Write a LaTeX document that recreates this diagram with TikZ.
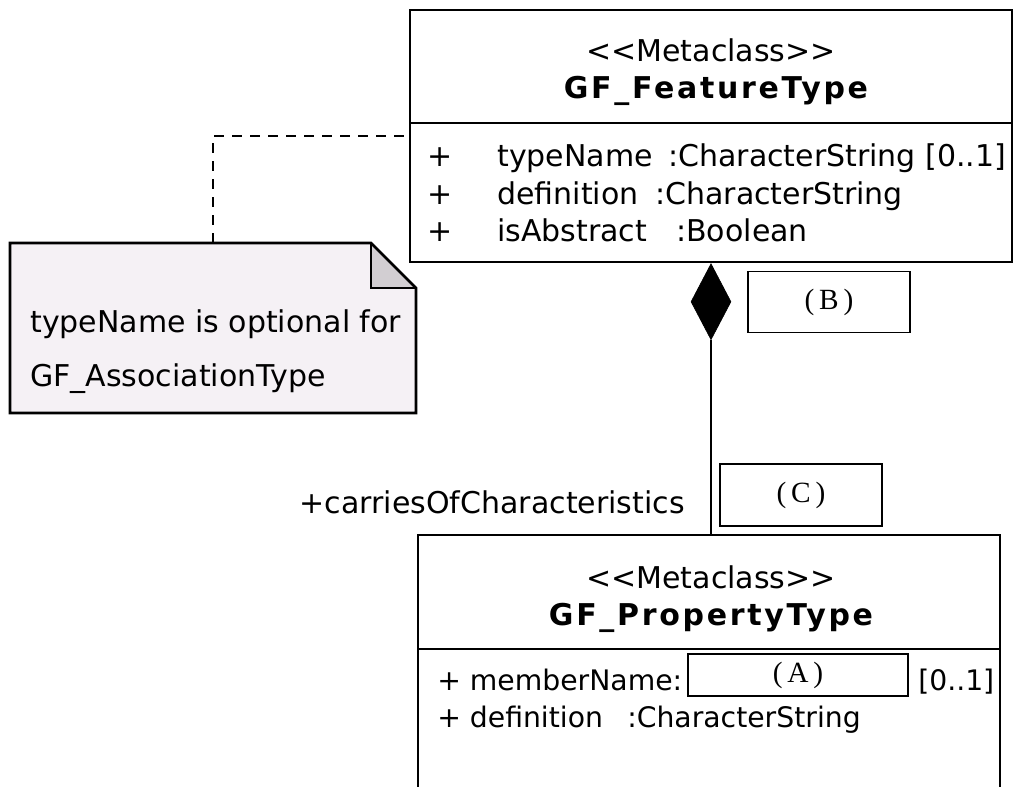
\documentclass[tikz,border=0pt]{standalone}
\usepackage{fontspec}
\setmainfont{DejaVu Sans}[Ligatures=TeXOff]
\newfontfamily\titlefont{DejaVu Sans}[Ligatures=TeXOff, LetterSpace=9]
\newfontfamily\tagfont{Liberation Serif}
\usetikzlibrary{shapes.geometric}
\definecolor{notefill}{HTML}{F5F1F5}
\definecolor{foldfill}{HTML}{D2CED2}
\begin{document}
\begin{tikzpicture}[x=0.75pt,y=-0.75pt,
  umlbox/.style={draw, line width=2.1pt, inner sep=0pt, fill=white},
  rule/.style={line width=2.1pt},
  tagbox/.style={draw, line width=0.9pt, inner sep=0pt, fill=white,
    font=\tagfont\fontsize{22}{24}\selectfont},
  txt/.style={inner sep=0pt, font=\fontsize{22.5}{26}\selectfont},
  txts/.style={inner sep=0pt, font=\fontsize{21.2}{26}\selectfont},
  ttl/.style={inner sep=0pt, font=\titlefont\bfseries\fontsize{22.5}{26}\selectfont},
  dashline/.style={line width=1.5pt, dash pattern=on 7.5pt off 6pt},
  conn/.style={line width=2.1pt}
]
\useasboundingbox (0,0) rectangle (1016,787);
\clip (0,0) rectangle (1016,787);

% ---------- GF_FeatureType ----------
\node[umlbox, minimum width={602*0.75pt}, minimum height={252*0.75pt}] (fbox) at (711,136) {};
\draw[rule] (410,123) -- (1012,123);
\node[txt, anchor=base] (fst) at (711,62) {<<Metaclass>>};
\node[ttl, anchor=base] (fttl) at (716,99) {GF\_FeatureType};
\node[txt, anchor=base] (fp1) at (440,167) {+};
\node[txt, anchor=base] (fp2) at (440,205) {+};
\node[txt, anchor=base] (fp3) at (440,242) {+};
\node[txt, anchor=base west] (fa1) at (497,167) {typeName};
\node[txt, anchor=base west] (fa2) at (497,205) {definition};
\node[txt, anchor=base west] (fa3) at (497,242) {isAbstract};
\node[txt, anchor=base west] (ft1) at (668,167) {:CharacterString [0..1]};
\node[txt, anchor=base west] (ft2) at (655,205) {:CharacterString};
\node[txt, anchor=base west] (ft3) at (676,242) {:Boolean};

% ---------- Note ----------
\fill[notefill] (10,243) -- (371,243) -- (416,288) -- (416,413) -- (10,413) -- cycle;
\fill[foldfill] (371,243) -- (371,288) -- (416,288) -- cycle;
\draw[rule, line join=miter] (10,243) -- (371,243) -- (416,288) -- (416,413) -- (10,413) -- cycle;
\draw[rule] (371,243) -- (371,288) -- (416,288);
\node[txt, anchor=base west] (n1) at (30,333) {typeName is optional for};
\node[txt, anchor=base west] (n2) at (30,387) {GF\_AssociationType};
\coordinate (notetop) at (213,243);
\draw[dashline] (notetop) |- (fbox.west);

% ---------- GF_PropertyType ----------
\node[umlbox, minimum width={582*0.75pt}, minimum height={300*0.75pt}] (pbox) at (709,685) {};
\draw[rule] (418,649) -- (1000,649);
\node[txt, anchor=base] (pst) at (711,588) {<<Metaclass>>};
\node[ttl, anchor=base] (pttl) at (711,625) {GF\_PropertyType};
\node[txts, anchor=base west] (pa1) at (437,690) {+ memberName:};
\node[txts, anchor=base west] (pm1) at (918,690) {[0..1]};
\node[txts, anchor=base west] (pa2) at (437,727) {+ definition};
\node[txts, anchor=base west] (pt2) at (627,727) {:CharacterString};

% ---------- Composition ----------
\node[diamond, aspect=0.5, fill=black, draw=black, line width=0.5pt,
      minimum width={40*0.75pt}, minimum height={76*0.75pt}, inner sep=0pt,
      anchor=north] (dia) at (fbox.south) {};
\draw[conn] (dia.south) -- (dia.south |- pbox.north);
\node[txt, anchor=base east] (role) at (685,513) {+carriesOfCharacteristics};

% ---------- tag boxes ----------
\node[tagbox, minimum width={162*0.75pt}, minimum height={61*0.75pt}] (tB) at (829,302) {(\,B\,)};
\node[tagbox, minimum width={162*0.75pt}, minimum height={62*0.75pt}] (tC) at (801,495) {(\,C\,)};
\node[tagbox, minimum width={220*0.75pt}, minimum height={42*0.75pt}] (tA) at (798,675) {(\,A\,)};
\end{tikzpicture}
\end{document}
